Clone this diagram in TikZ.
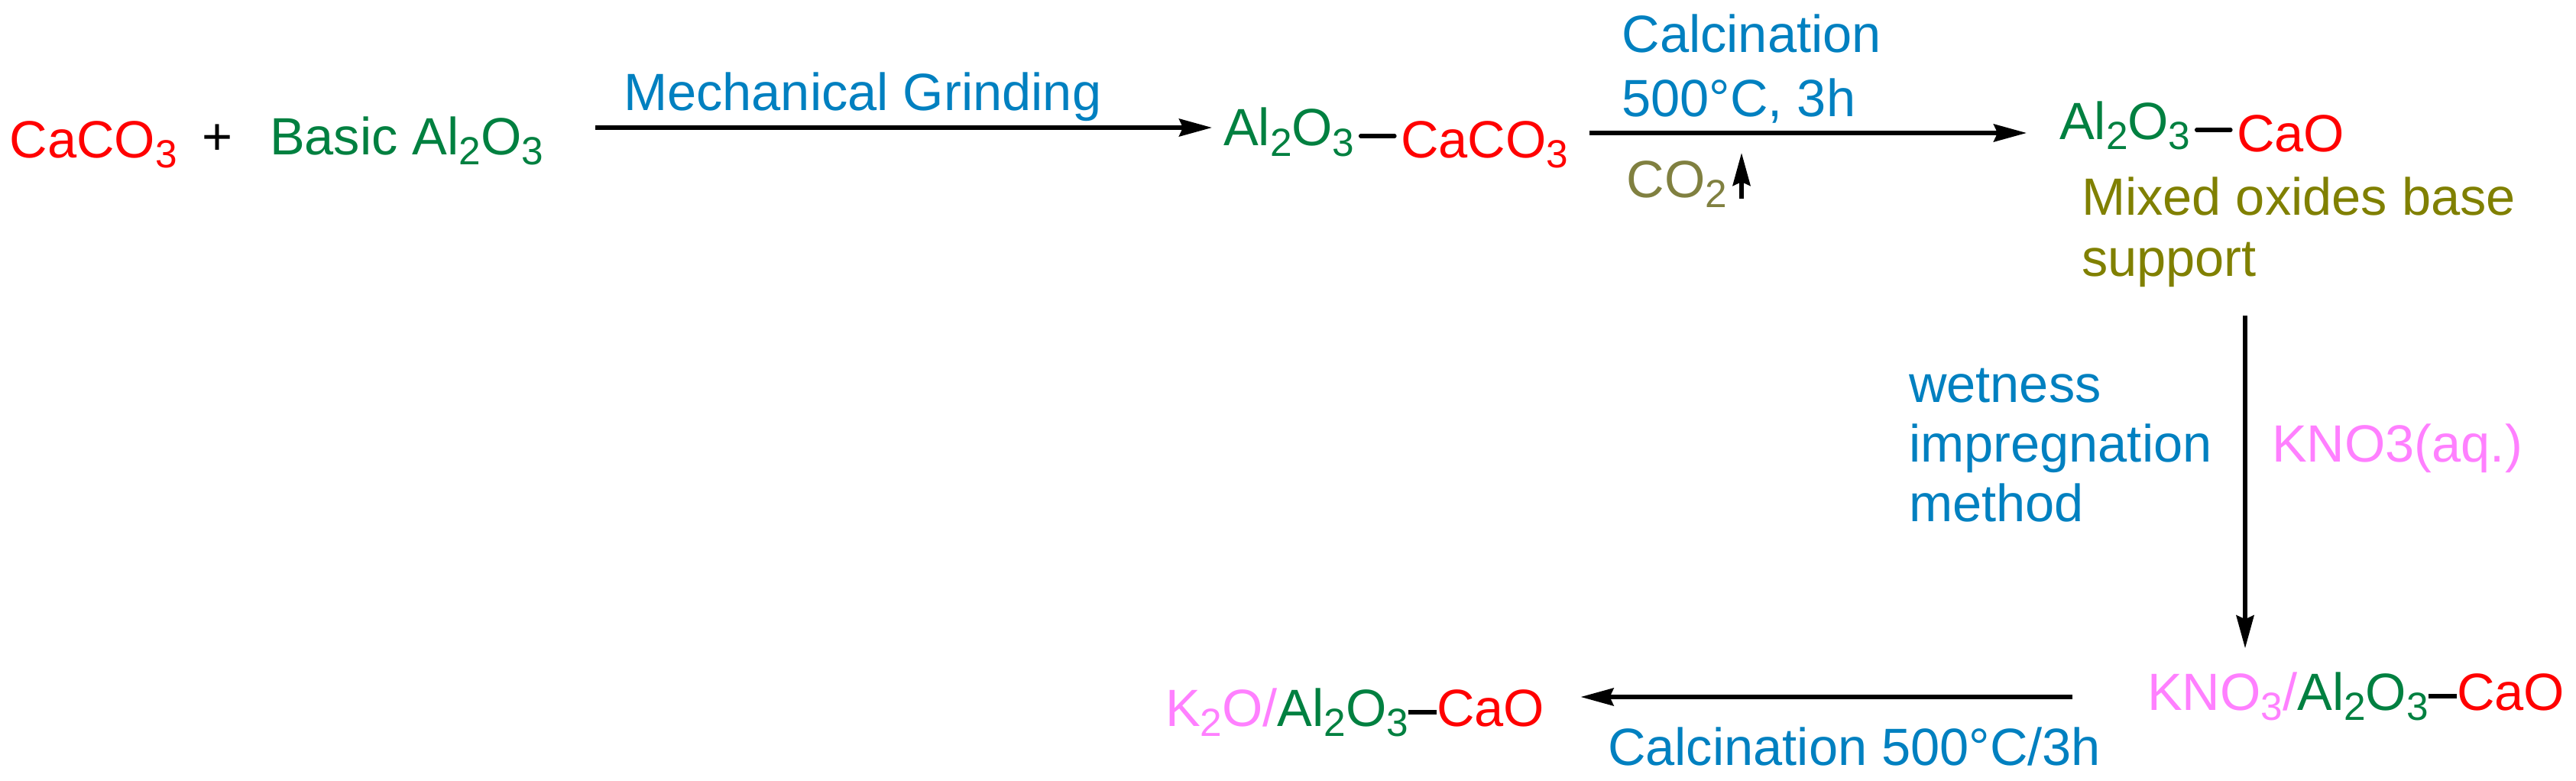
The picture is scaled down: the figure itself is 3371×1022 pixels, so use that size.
\documentclass[tikz,border=0pt]{standalone}
\usepackage{fontspec}
\setmainfont{Liberation Sans}
\usetikzlibrary{arrows.meta}
\definecolor{cared}{HTML}{FF0000}
\definecolor{algreen}{HTML}{008040}
\definecolor{stepblue}{HTML}{0080C0}
\definecolor{gasolive}{HTML}{808040}
\definecolor{oxolive}{HTML}{808000}
\definecolor{kpink}{HTML}{FF80FF}
\newcommand{\sbs}[1]{\raisebox{-6.8pt}{\fontsize{25.7pt}{25.7pt}\selectfont #1}}
\newcommand{\alox}{Al\sbs{2}O\sbs{3}}
\tikzset{
  lbl/.style={anchor=base west,inner sep=0pt,outer sep=0pt,font=\fontsize{34.3pt}{40pt}\selectfont},
  ca/.style={lbl,text=cared},
  al/.style={lbl,text=algreen},
  stepl/.style={lbl,text=stepblue},
  kl/.style={lbl,text=kpink},
  rxn/.style={line width=2.6pt,-{Stealth[length=21.5pt,width=11.5pt,inset=2.5pt]}},
  bond/.style={line width=2.8pt},
  rbond/.style={line width=2.6pt,line cap=round},
}
\begin{document}
\begin{tikzpicture}[x=0.5pt,y=-0.5pt]
\useasboundingbox (0,0) rectangle (3371,1022);
% first row
\node[ca] (caco) at (12.5,206) {CaCO\sbs{3}};
\node[lbl,anchor=center] (plus) at (285,183) {+};
\node[al] (basic) at (353,202) {Basic \alox};
\node[stepl] (grind) at (816,145) {Mechanical Grinding};
\node[al] (alA) at (1601,191) {\alox};
\node[ca] (caB) at (1833,206) {CaCO\sbs{3}};
\node[stepl,align=left] (calc) at (2122.5,152) {Calcination\\[2pt]500°C, 3h};
\node[lbl,text=gasolive] (cotwo) at (2128.5,258) {CO\sbs{2}};
\node[al] (alC) at (2695,182) {\alox};
\node[ca] (caC) at (2927,198) {CaO};
\node[lbl,text=oxolive,align=left] (mixed) at (2724,361) {Mixed oxides base\\support};
% right column
\node[stepl,align=left] (wet) at (2498,682) {wetness\\[-1pt]impregnation\\[-1pt]method};
\node[kl] (kaq) at (2973,604) {KNO3(aq.)};
% bottom row
\node[kl] (knoal) at (2810,929) {KNO\sbs{3}/\textcolor{algreen}{\alox}};
\node[ca] (caD) at (3215,929) {CaO};
\node[kl] (koal) at (1525,950) {K\sbs{2}O/\textcolor{algreen}{\alox}};
\node[ca] (caE) at (1880,950) {CaO};
\node[stepl] (calcb) at (2104,1001) {Calcination 500°C/3h};
% helper levels
\coordinate (yA) at (0,167);
\coordinate (yB) at (0,174);
\coordinate (xC) at (2938,0);
\coordinate (yD) at (0,912);
\coordinate (gasS) at (2279,260);
\coordinate (gasE) at (2279,200);
% reaction arrows
\draw[rxn,shorten <=34pt,shorten >=7.5pt] (basic.east |- yA) -- (alA.west |- yA);
\draw[rxn,shorten <=14pt,shorten >=21.5pt] (caB.east |- yB) -- (alC.west |- yB);
\draw[rxn,shorten <=19pt,shorten >=15.5pt] (xC |- mixed.south) -- (xC |- knoal.north);
\draw[rxn,shorten <=49pt,shorten >=23.75pt] (knoal.west |- yD) -- (caE.east |- yD);
\draw[rxn] (gasS) -- (gasE);
% bonds
\draw[rbond,shorten <=4pt,shorten >=4pt] (alA.east |- 0,178) -- (caB.west |- 0,178);
\draw[rbond,shorten <=4pt,shorten >=4pt] (alC.east |- 0,170) -- (caC.west |- 0,170);
\draw[bond] (knoal.east |- 0,911) -- (caD.west |- 0,911);
\draw[bond] (koal.east |- 0,932) -- (caE.west |- 0,932);
\end{tikzpicture}
\end{document}
